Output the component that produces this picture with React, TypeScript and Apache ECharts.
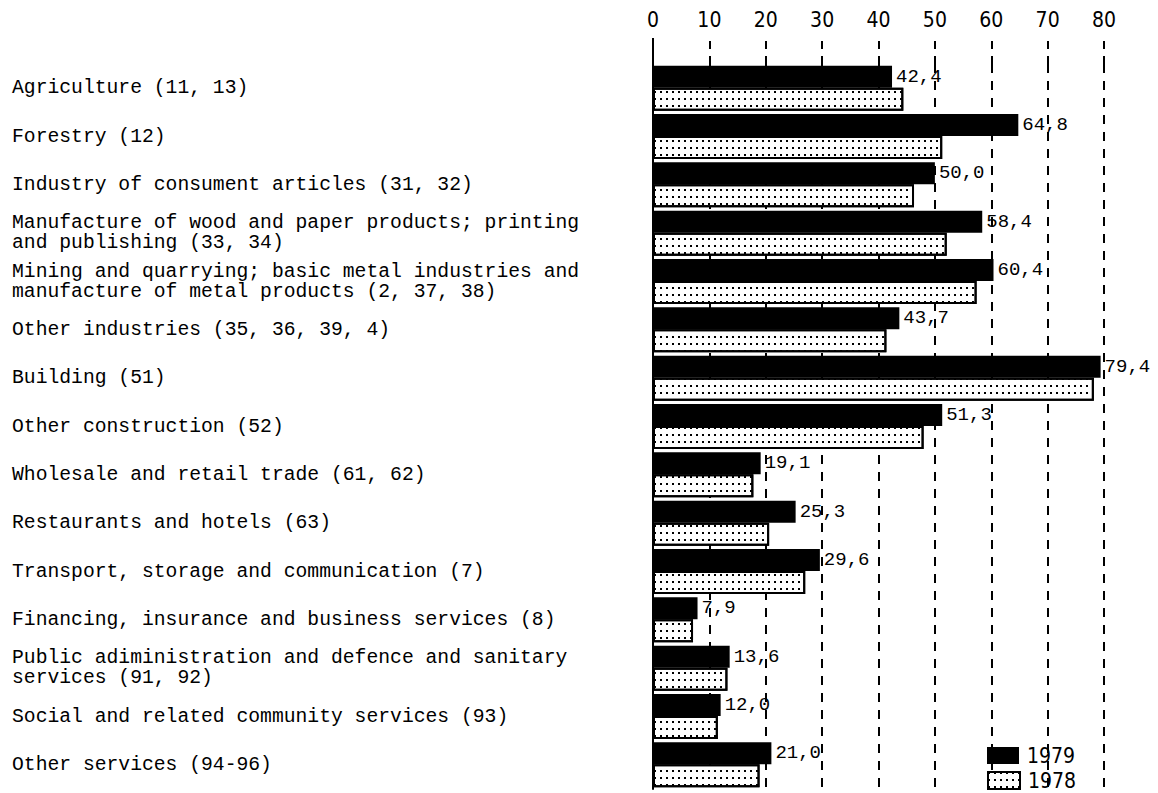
import React, { useEffect, useRef } from "react";
import * as echarts from "echarts";

const categories = [
  "Agriculture (11, 13)",
  "Forestry (12)",
  "Industry of consument articles (31, 32)",
  "Manufacture of wood and paper products; printing\nand publishing (33, 34)",
  "Mining and quarrying; basic metal industries and\nmanufacture of metal products (2, 37, 38)",
  "Other industries (35, 36, 39, 4)",
  "Building (51)",
  "Other construction (52)",
  "Wholesale and retail trade (61, 62)",
  "Restaurants and hotels (63)",
  "Transport, storage and communication (7)",
  "Financing, insurance and business services (8)",
  "Public adiministration and defence and sanitary\nservices (91, 92)",
  "Social and related community services (93)",
  "Other services (94-96)",
];

const values1979 = [42.4, 64.8, 50.0, 58.4, 60.4, 43.7, 79.4, 51.3, 19.1, 25.3, 29.6, 7.9, 13.6, 12.0, 21.0];
const values1978 = [44.4, 51.3, 46.3, 52.1, 57.4, 41.4, 78.2, 48.0, 17.8, 20.6, 27.0, 7.1, 13.2, 11.5, 18.9];

const axisMin = 0;
const axisMax = 80;
const axisInterval = 10;

const MONO = "'Liberation Mono', 'DejaVu Sans Mono', monospace";
const NARROW = "'Liberation Sans Narrow', 'DejaVu Sans Condensed', 'Liberation Sans', sans-serif";

const legendCommon = {
  orient: "vertical",
  left: 987,
  padding: 0,
  itemWidth: 32,
  itemHeight: 17,
  icon: "rect",
  textStyle: { fontFamily: NARROW, fontSize: 21, color: "#000", padding: [0, 0, 0, 3] },
};

export default function App() {
  const ref = useRef<HTMLDivElement>(null);

  useEffect(() => {
    if (!ref.current) return;
    const chart = echarts.init(ref.current, undefined, { renderer: "svg" });
    chart.setOption({
      animation: false,
      backgroundColor: "#fff",
      grid: { left: 653, right: 54, top: 64, bottom: 4, containLabel: false },
      legend: [
        { ...legendCommon, top: 745, data: ["1979"] },
        { ...legendCommon, top: 770, data: ["1978"] },
      ],
      xAxis: {
        type: "value",
        position: "top",
        min: axisMin,
        max: axisMax,
        interval: axisInterval,
        axisLine: { show: false },
        axisTick: {
          show: true,
          length: 26,
          lineStyle: { color: "#000", width: 2, type: [8, 7] },
        },
        axisLabel: {
          margin: 34,
          color: "#000",
          fontSize: 21,
          fontFamily: NARROW,
        },
        splitLine: {
          show: true,
          lineStyle: { color: "#000", width: 2, type: [9, 8] },
        },
      },
      yAxis: {
        type: "category",
        inverse: true,
        data: categories,
        axisLine: { show: true, lineStyle: { color: "#000", width: 2 } },
        axisTick: { show: false },
        axisLabel: {
          align: "left",
          margin: 641,
          color: "#000",
          fontSize: 19.7,
          lineHeight: 20,
          fontFamily: MONO,
        },
      },
      graphic: [
        {
          type: "line",
          shape: { x1: 653, y1: 38, x2: 653, y2: 64 },
          style: { stroke: "#000", lineWidth: 2 },
          z: 10,
        },
      ],
      series: [
        {
          name: "1979",
          type: "bar",
          data: values1979,
          barWidth: 22,
          barGap: "0%",
          itemStyle: { color: "#000" },
          label: {
            show: true,
            position: "right",
            distance: 4,
            color: "#000",
            fontSize: 19,
            fontFamily: MONO,
            formatter: (p: any) => Number(p.value).toFixed(1).replace(".", ","),
          },
          z: 3,
        },
        {
          name: "1978",
          type: "bar",
          data: values1978,
          barWidth: 23,
          barGap: "0%",
          itemStyle: {
            color: "#fff",
            borderColor: "#000",
            borderWidth: 2,
            decal: {
              symbol: "rect",
              symbolSize: 1,
              dashArrayX: [1.5, 3.5],
              dashArrayY: [1.5, 4.5],
              color: "#000",
              backgroundColor: "#fff",
              rotation: 0,
            },
          },
          z: 2,
        },
      ],
    });
    return () => chart.dispose();
  }, []);

  return (
    <div
      ref={ref}
      style={{ position: "fixed", left: 0, top: 0, width: 1158, height: 793, background: "#fff" }}
    />
  );
}
